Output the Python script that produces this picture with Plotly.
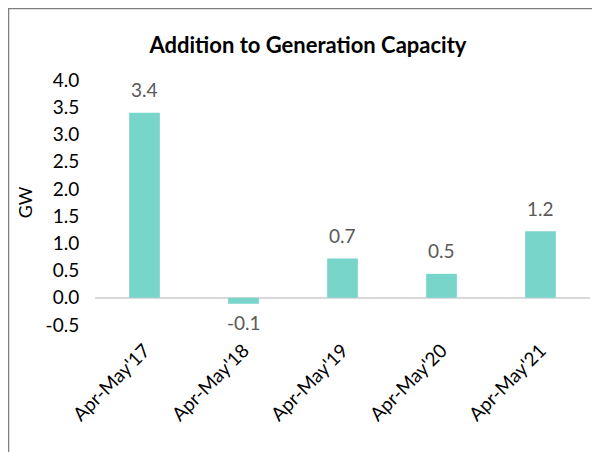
import plotly.graph_objects as go

categories = ["Apr-May'17", "Apr-May'18", "Apr-May'19", "Apr-May'20", "Apr-May'21"]
values = [3.4, -0.11, 0.72, 0.44, 1.22]
labels = ["3.4", "-0.1", "0.7", "0.5", "1.2"]
y_ticks = [-0.5, 0.0, 0.5, 1.0, 1.5, 2.0, 2.5, 3.0, 3.5, 4.0]

FONT = "Lato"
W, H = 600, 452
L, R, T, B = 87, 18, 72, 135

fig = go.Figure(go.Bar(
    x=categories, y=values,
    marker=dict(color="#78D5CA", line=dict(width=0)),
    width=0.31,
))

for c, v, t in zip(categories, values, labels):
    fig.add_annotation(x=c, y=v, text=t, showarrow=False, yanchor="middle",
                       yshift=23 if v >= 0 else -19,
                       font=dict(family=FONT, size=19, color="#595959"))

pw = W - L - R
ph = H - T - B
def fx(px):
    return (px - L) / pw
def fy(py):
    return (H - B - py) / ph

fig.update_layout(
    width=W, height=H,
    margin=dict(l=L, r=R, t=T, b=B),
    plot_bgcolor="white", paper_bgcolor="white",
    title=dict(text="<b>Addition to Generation Capacity</b>", x=0.5, xanchor="center",
               y=1 - 37 / H, yanchor="middle",
               font=dict(family=FONT, size=22, color="black")),
    xaxis=dict(showgrid=False, showline=False, tickangle=-45, ticks="outside", ticklen=6,
               tickcolor="rgba(0,0,0,0)",
               tickfont=dict(family=FONT, size=19, color="black")),
    yaxis=dict(range=[-0.5, 4.0], tickvals=y_ticks, ticktext=[f"{v:.1f}" for v in y_ticks],
               showgrid=False, zeroline=True, zerolinecolor="#d9d9d9", zerolinewidth=1.5,
               showline=False, ticks="outside", ticklen=11, tickcolor="rgba(0,0,0,0)",
               tickfont=dict(family=FONT, size=19, color="black"),
               title=dict(text="GW", font=dict(family=FONT, size=18, color="black"), standoff=8)),
    shapes=[
        dict(type="line", xref="paper", yref="paper", x0=fx(0.5), x1=fx(0.5), y0=fy(0), y1=fy(H),
             line=dict(color="#7f7f7f", width=1.5)),
        dict(type="line", xref="paper", yref="paper", x0=fx(0), x1=fx(W), y0=fy(0.5), y1=fy(0.5),
             line=dict(color="#7f7f7f", width=1.5)),
    ],
    showlegend=False,
)

fig.write_html("out.html")
